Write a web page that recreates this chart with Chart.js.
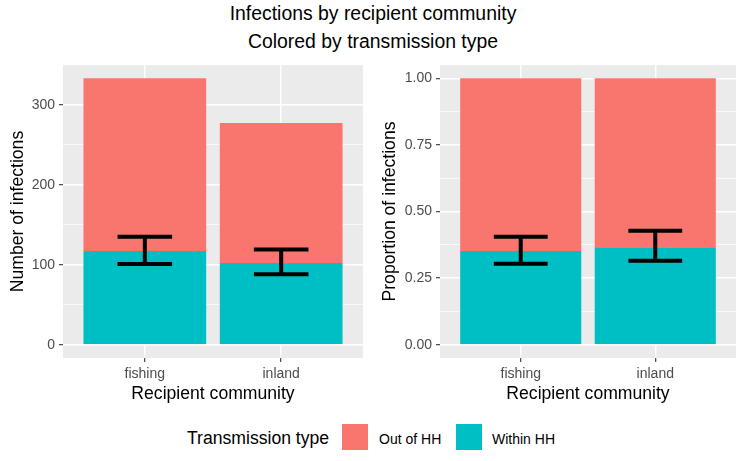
<!DOCTYPE html>
<html>
<head>
<meta charset="utf-8">
<script src="https://cdn.jsdelivr.net/npm/chart.js@4"></script>
<style>
  html, body { margin: 0; padding: 0; background: #ffffff; }
  body { width: 746px; height: 461px; position: relative; overflow: hidden; font-family: "Liberation Sans", Arial, sans-serif; }
  .abs { position: absolute; }
  #title { left: 0; width: 746px; top: -1px; text-align: center; font-size: 19.4px; line-height: 28px; color: #000; }
  #c1wrap { left: 0; top: 60px; width: 370px; height: 350px; }
  #c2wrap { left: 370px; top: 60px; width: 376px; height: 350px; }
  .lg { top: 426px; line-height: 26px; white-space: nowrap; color: #000; }
  .key { top: 424px; width: 26px; height: 26px; }
</style>
</head>
<body>
<div id="title" class="abs">Infections by recipient community<br>Colored by transmission type</div>
<div id="c1wrap" class="abs"><canvas id="c1" width="370" height="350"></canvas></div>
<div id="c2wrap" class="abs"><canvas id="c2" width="376" height="350"></canvas></div>
<div class="abs lg" style="left:187px; top:425px; font-size:17.6px;">Transmission type</div>
<div class="abs key" style="left:342px; background:#F8766D;"></div>
<div class="abs lg" style="left:379px; font-size:14px;">Out of HH</div>
<div class="abs key" style="left:456px; background:#00BFC4;"></div>
<div class="abs lg" style="left:492px; font-size:14px;">Within HH</div>
<script>
// ---- data ----
const categories = ["fishing", "inland"];
const seriesNames = ["Within HH", "Out of HH"];
// counts
const countWithin = [117, 102];
const countOut = [216, 175];
const countErrLow = [101, 88];
const countErrHigh = [135, 119];
// proportions
const propWithin = [0.352, 0.366];
const propOut = [0.648, 0.634];
const propErrLow = [0.304, 0.315];
const propErrHigh = [0.405, 0.428];
// ticks
const countTicks = [0, 50, 100, 150, 200, 250, 300];
const countMajor = [0, 100, 200, 300];
const propTicks = [0, 0.125, 0.25, 0.375, 0.5, 0.625, 0.75, 0.875, 1];
const propMajor = [0, 0.25, 0.5, 0.75, 1];

const COL_WITHIN = "#00BFC4";
const COL_OUT = "#F8766D";
const FONT = "'Liberation Sans', Arial, sans-serif";

const panelBg = {
  id: "panelBg",
  beforeDraw(chart) {
    const a = chart.chartArea, ctx = chart.ctx;
    ctx.save();
    ctx.fillStyle = "#EBEBEB";
    ctx.fillRect(a.left, a.top, a.right - a.left, a.bottom - a.top);
    ctx.restore();
  }
};

const errorBars = {
  id: "errorBars",
  afterDatasetsDraw(chart, args, opts) {
    const xs = chart.scales.x, ys = chart.scales.y, ctx = chart.ctx;
    const unit = xs.getPixelForValue(2) - xs.getPixelForValue(1);
    const half = unit * 0.2;
    ctx.save();
    ctx.strokeStyle = "#000";
    ctx.lineWidth = 4;
    ctx.lineCap = "butt";
    opts.low.forEach((lo, i) => {
      const x = xs.getPixelForValue(i + 1);
      const yl = ys.getPixelForValue(lo), yh = ys.getPixelForValue(opts.high[i]);
      ctx.beginPath();
      ctx.moveTo(x - half, yh); ctx.lineTo(x + half, yh);
      ctx.moveTo(x - half, yl); ctx.lineTo(x + half, yl);
      ctx.moveTo(x, yh); ctx.lineTo(x, yl);
      ctx.stroke();
    });
    ctx.restore();
  }
};

function makeChart(id, within, out, lo, hi, ticks, major, ymax, yTitle, fmt, yAxisWidth, padRight, yTitlePad) {
  return new Chart(document.getElementById(id), {
    type: "bar",
    data: {
      datasets: [
        { label: seriesNames[0], data: categories.map((c, i) => ({ x: i + 1, y: within[i] })), backgroundColor: COL_WITHIN, stack: "s", borderWidth: 0 },
        { label: seriesNames[1], data: categories.map((c, i) => ({ x: i + 1, y: out[i] })), backgroundColor: COL_OUT, stack: "s", borderWidth: 0 }
      ]
    },
    options: {
      responsive: false,
      animation: false,
      devicePixelRatio: 1,
      layout: { padding: { top: 5, right: padRight, bottom: 0, left: 0 } },
      datasets: { bar: { categoryPercentage: 1, barPercentage: 0.9 } },
      plugins: {
        legend: { display: false },
        tooltip: { enabled: false },
        errorBars: { low: lo, high: hi }
      },
      scales: {
        x: {
          type: "linear",
          offset: false,
          min: 0.4, max: 2.6,
          afterBuildTicks(s) { s.ticks = categories.map((c, i) => ({ value: i + 1 })); },
          afterFit(s) { s.height = 52; s.paddingLeft = 0; s.paddingRight = 0; },
          ticks: { callback: (v) => categories[v - 1], color: "#4D4D4D", font: { family: FONT, size: 14 }, padding: 4, maxRotation: 0, autoSkip: false },
          grid: { offset: false, color: "#FFFFFF", lineWidth: 1.4, tickLength: 4, tickColor: "#333333", tickWidth: 1.1 },
          border: { display: false },
          title: { display: true, text: "Recipient community", color: "#000", font: { family: FONT, size: 17.6 }, padding: { top: 0, bottom: 5 } }
        },
        y: {
          stacked: true,
          min: -ymax * 0.05, max: ymax * 1.05,
          afterBuildTicks(s) { s.ticks = ticks.map(v => ({ value: v })); },
          afterFit(s) { s.width = yAxisWidth; s.paddingTop = 0; s.paddingBottom = 0; },
          ticks: {
            callback: (v) => major.includes(v) ? fmt(v) : "",
            color: "#4D4D4D", font: { family: FONT, size: 14 }, padding: 4, autoSkip: false
          },
          grid: {
            color: "#FFFFFF",
            lineWidth: (c) => (c.tick && major.includes(c.tick.value)) ? 1.4 : 0.7,
            tickLength: 4,
            tickColor: (c) => (c.tick && major.includes(c.tick.value)) ? "#333333" : "rgba(0,0,0,0)",
            tickWidth: 1.1
          },
          border: { display: false },
          title: { display: true, text: yTitle, color: "#000", font: { family: FONT, size: 17.6 }, padding: { top: yTitlePad, bottom: 0 } }
        }
      }
    },
    plugins: [panelBg, errorBars]
  });
}

makeChart("c1", countWithin, countOut, countErrLow, countErrHigh, countTicks, countMajor, 333,
  "Number of infections", (v) => String(v), 63, 7, 7.4);
makeChart("c2", propWithin, propOut, propErrLow, propErrHigh, propTicks, propMajor, 1,
  "Proportion of infections", (v) => v.toFixed(2), 70, 10, 10);
</script>
</body>
</html>
